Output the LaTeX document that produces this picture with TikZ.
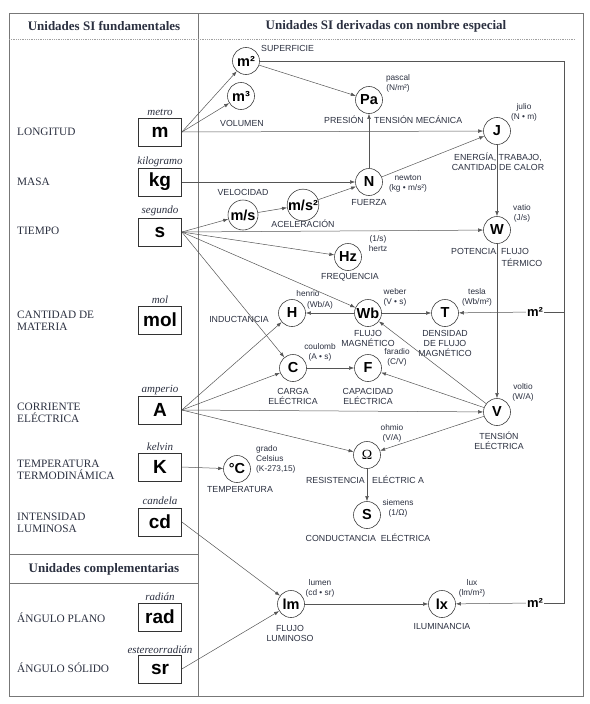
\documentclass[tikz,border=0pt]{standalone}
\usepackage{fontspec}
\setmainfont{Liberation Serif}
\setsansfont{Liberation Sans}
\usetikzlibrary{arrows.meta}
\definecolor{txt}{HTML}{2B3040}
\definecolor{lin}{HTML}{555555}
\definecolor{frm}{HTML}{777777}
\tikzset{
  hdr/.style={font=\rmfamily\bfseries\fontsize{13}{14}\selectfont, text=txt},
  qty/.style={font=\rmfamily\fontsize{11.3}{12}\selectfont, anchor=west, align=left, text=txt, inner sep=0},
  uname/.style={font=\rmfamily\itshape\fontsize{11}{12}\selectfont, text=txt, inner sep=0},
  ubox/.style={draw=black!80, line width=0.7, minimum width=43, minimum height=28, inner sep=0, font=\sffamily\bfseries\fontsize{19}{19}\selectfont},
  unode/.style={circle, draw=black!75, line width=0.6, minimum size=27, inner sep=0, font=\sffamily\bfseries\fontsize{14.5}{14.5}\selectfont},
  lbl/.style={font=\sffamily\fontsize{8.8}{10}\selectfont, align=center, text=txt, inner sep=0},
  sm/.style={font=\sffamily\fontsize{8.3}{10}\selectfont, align=center, text=txt, inner sep=0},
  msq/.style={font=\sffamily\bfseries\fontsize{13}{13}\selectfont, inner sep=1},
  arr/.style={draw=lin, line width=0.5, -{Latex[length=5,width=3.6]}},
  ln/.style={draw=lin, line width=0.5},
}
\begin{document}
\begin{tikzpicture}[x=1pt,y=-1pt]
\useasboundingbox (0,0) rectangle (589,704);
% frame
\draw[frm, line width=0.8] (9,13) rectangle (583,696);
\draw[frm, line width=0.8] (198,13) -- (198,696);
\draw[frm!70, line width=0.8, densely dotted] (9,39) -- (575,39);
\draw[frm, line width=0.8] (9,554) -- (198,554);
\draw[frm, line width=0.8] (9,583) -- (198,583);
% headers
\node[hdr] (h1) at (104,26) {Unidades SI fundamentales};
\node[hdr] (h2) at (386,26) {Unidades SI derivadas con nombre especial};
\node[hdr] (h3) at (104,569) {Unidades complementarias};
% left labels
\node[qty] (q1) at (17,132) {LONGITUD};
\node[qty] (q2) at (17,182) {MASA};
\node[qty] (q3) at (17,231) {TIEMPO};
\node[qty] (q4) at (17,321) {CANTIDAD DE\\MATERIA};
\node[qty] (q5) at (17,413) {CORRIENTE\\ELÉCTRICA};
\node[qty] (q6) at (17,470) {TEMPERATURA\\TERMODINÁMICA};
\node[qty] (q7) at (17,523) {INTENSIDAD\\LUMINOSA};
\node[qty] (q8) at (17,618) {ÁNGULO PLANO};
\node[qty] (q9) at (17,668) {ÁNGULO SÓLIDO};
% base unit boxes
\node[ubox] (m) at (160,132) {m};
\node[ubox] (kg) at (160,182) {kg};
\node[ubox] (s) at (160,232) {s};
\node[ubox] (mol) at (160,320) {mol};
\node[ubox] (A) at (160,410) {A};
\node[ubox] (K) at (160,467) {K};
\node[ubox] (cd) at (160,522) {cd};
\node[ubox] (rad) at (160,617) {rad};
\node[ubox] (sr) at (160,669) {sr};
\node[uname] (n1) at (160,112) {metro};
\node[uname] (n2) at (160,162) {kilogramo};
\node[uname] (n3) at (160,211) {segundo};
\node[uname] (n4) at (160,300) {mol};
\node[uname] (n5) at (160,390) {amperio};
\node[uname] (n6) at (160,447) {kelvin};
\node[uname] (n7) at (160,501) {candela};
\node[uname] (n8) at (160,597) {radián};
\node[uname] (n9) at (160,650) {estereorradián};
% derived unit circles
\node[unode] (m2s) at (246,61) {m²};
\node[unode] (m3) at (241,96) {m³};
\node[unode] (Pa) at (369,100) {Pa};
\node[unode] (J) at (497,131) {J};
\node[unode] (N) at (369,182) {N};
\node[unode, minimum size=30] (ms) at (243,215) {m/s};
\node[unode, minimum size=30] (mss) at (303,205) {m/s²};
\node[unode] (W) at (497,230) {W};
\node[unode] (Hz) at (348,257) {Hz};
\node[unode] (H) at (292,313) {H};
\node[unode] (Wb) at (368,313) {Wb};
\node[unode] (T) at (445,313) {T};
\node[unode] (C) at (293,368) {C};
\node[unode] (F) at (368,368) {F};
\node[unode] (V) at (497,412) {V};
\node[unode, font=\rmfamily\fontsize{14}{14}\selectfont] (Om) at (367,455) {Ω};
\node[unode] (S) at (367,515) {S};
\node[unode] (degC) at (237,469) {°C};
\node[unode] (lm) at (291,604) {lm};
\node[unode] (lx) at (442,604) {lx};
\node[msq] (m2T) at (535,312) {m²};
\node[msq] (m2lx) at (535,603) {m²};
% quantity labels
\node[lbl, anchor=west] (t1) at (261,48) {SUPERFICIE};
\node[lbl] (t2) at (242,123) {VOLUMEN};
\node[sm] (u1) at (398,83) {pascal\\(N/m²)};
\node[lbl, anchor=east] (t3) at (364,120) {PRESIÓN};
\node[lbl, anchor=west] (t4) at (374,120) {TENSIÓN MECÁNICA};
\node[sm] (u2) at (524,112) {julio\\(N • m)};
\node[lbl] (t5) at (498,162) {ENERGÍA, TRABAJO,\\CANTIDAD DE CALOR};
\node[sm] (u3) at (408,184) {newton\\(kg • m/s²)};
\node[lbl] (t6) at (369,203) {FUERZA};
\node[lbl] (t7) at (243,192) {VELOCIDAD};
\node[lbl] (t8) at (303,224) {ACELERACIÓN};
\node[sm] (u4) at (522,213) {vatio\\(J/s)};
\node[lbl] (t9) at (490,252) {POTENCIA, FLUJO};
\node[lbl] (t10) at (522,263) {TÉRMICO};
\node[sm] (u5) at (378,244) {(1/s)\\hertz};
\node[lbl] (t11) at (350,277) {FREQUENCIA};
\node[sm] (u6a) at (308,294) {henrio};
\node[sm] (u6b) at (320,305) {(Wb/A)};
\node[lbl] (t12) at (239,319) {INDUCTANCIA};
\node[sm] (u7) at (395,297) {weber\\(V • s)};
\node[lbl] (t13) at (368,338) {FLUJO\\MAGNÉTICO};
\node[sm] (u8) at (477,297) {tesla\\(Wb/m²)};
\node[lbl] (t14) at (445,343) {DENSIDAD\\DE FLUJO\\MAGNÉTICO};
\node[sm] (u9) at (320,352) {coulomb\\(A • s)};
\node[lbl] (t15) at (293,396) {CARGA\\ELÉCTRICA};
\node[sm] (u10) at (397,357) {faradio\\(C/V)};
\node[lbl] (t16) at (368,396) {CAPACIDAD\\ELÉCTRICA};
\node[sm] (u11) at (523,392) {voltio\\(W/A)};
\node[lbl] (t17) at (499,441) {TENSIÓN\\ELÉCTRICA};
\node[sm] (u12) at (392,433) {ohmio\\(V/A)};
\node[lbl, anchor=east] (t18) at (365,480) {RESISTENCIA};
\node[lbl, anchor=west] (t19) at (372,480) {ELÉCTRIC A};
\node[sm] (u13) at (398,508) {siemens\\(1/Ω)};
\node[lbl] (t20) at (368,538) {CONDUCTANCIA\ \ ELÉCTRICA};
\node[sm, anchor=west, align=left] (u14) at (256,459) {grado\\Celsius\\(K-273,15)};
\node[lbl] (t21) at (240,490) {TEMPERATURA};
\node[sm] (u15) at (320,588) {lumen\\(cd • sr)};
\node[lbl] (t22) at (290,633) {FLUJO\\LUMINOSO};
\node[sm] (u16) at (472,588) {lux\\(lm/m²)};
\node[lbl] (t23) at (442,626) {ILUMINANCIA};
% connectors
\coordinate (rt) at (564,61);
\coordinate (rb) at (564,603);
\coordinate (rm) at (564,312);
\draw[ln] (m2s) -- (rt) -- (rb) -- (m2lx.east);
\draw[ln] (rm) -- (m2T.east);
\draw[arr] (m2T) -- (T);
\draw[arr] (m2lx) -- (lx);
\draw[arr] (m.east) -- (m2s);
\draw[arr] (m.east) -- (m3);
\draw[arr] (m.east) -- (J);
\draw[arr] (m2s) -- (Pa);
\draw[arr] (kg.east) -- (N);
\draw[arr] (N) -- (Pa);
\draw[arr] (N) -- (J);
\draw[arr] (s.east) -- (ms);
\draw[arr] (ms) -- (mss);
\draw[arr] (mss) -- (N);
\draw[arr] (s.east) -- (W);
\draw[arr] (s.east) -- (Hz);
\draw[arr] (s.east) -- (Wb);
\draw[arr] (s.east) -- (C);
\draw[arr] (J) -- (W);
\draw[arr] (W) -- (V);
\draw[arr] (Wb) -- (H);
\draw[arr] (Wb) -- (T);
\draw[arr] (V) -- (Wb);
\draw[arr] (V) -- (F);
\draw[arr] (V) -- (Om);
\draw[arr] (A.east) -- (H);
\draw[arr] (A.east) -- (C);
\draw[arr] (A.east) -- (V);
\draw[arr] (A.east) -- (Om);
\draw[arr] (C) -- (F);
\draw[arr] (Om) -- (S);
\draw[arr] (K.east) -- (degC);
\draw[arr] (cd.east) -- (lm);
\draw[arr] (sr.east) -- (lm);
\draw[arr] (lm) -- (lx);
\end{tikzpicture}
\end{document}
